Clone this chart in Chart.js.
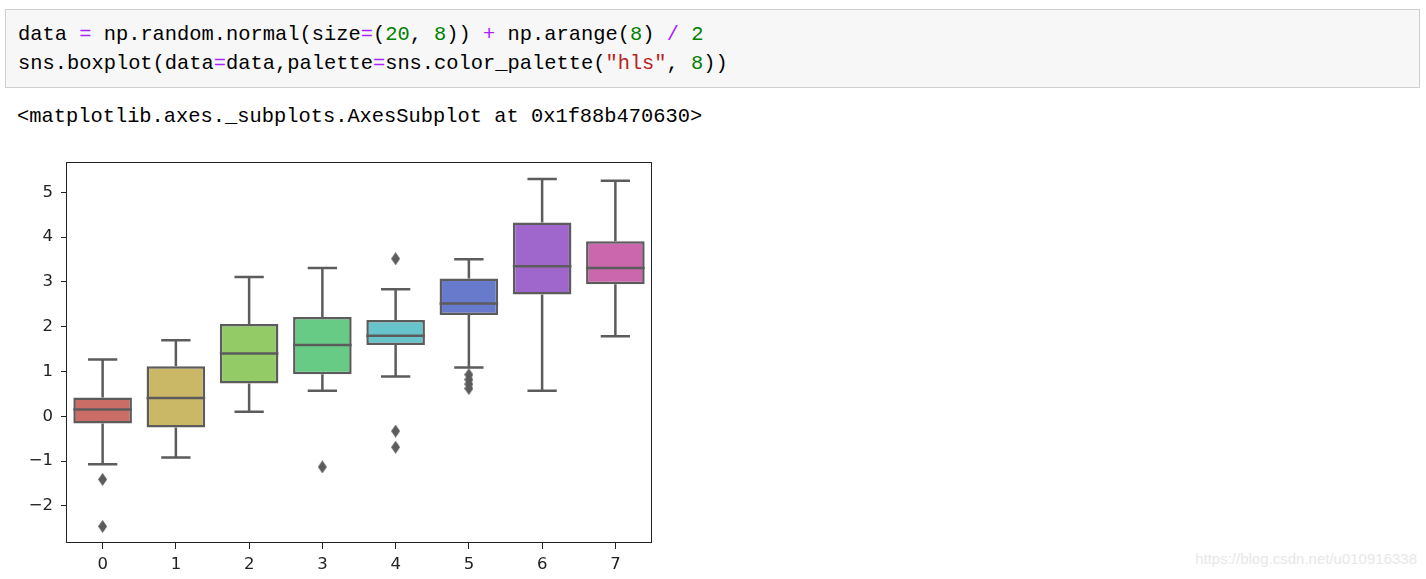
<!DOCTYPE html>
<html>
<head>
  <title>sns.boxplot</title>
  <script src="https://cdn.jsdelivr.net/npm/chart.js"></script>
  <style>
    body { margin: 0; background: #fff; width: 1426px; height: 579px; position: relative; overflow: hidden; }
    #cell {
      position: absolute; left: 5px; top: 9px; width: 1413px; height: 77px;
      background: #f7f7f7; border: 1px solid #cfcfcf;
    }
    pre {
      margin: 0; font-family: "Liberation Mono", monospace; font-size: 20.4px; line-height: 29px; color: #000;
    }
    #cell pre { position: absolute; left: 12px; top: 10px; }
    .o { color: #aa22ff; }
    .n { color: #008000; }
    .s { color: #ba2121; }
    #out { position: absolute; left: 17px; top: 102px; color: #000; }
    #wrap { position: absolute; left: 0; top: 150px; width: 660px; height: 429px; }
    #mark {
      position: absolute; right: 9px; top: 550px; font-family: "Liberation Sans", Arial, sans-serif;
      font-size: 15px; color: #e8e8e8;
    }
  </style>
</head>
<body>
  <div id="cell"><pre>data <span class="o">=</span> np.random.normal(size<span class="o">=</span>(<span class="n">20</span>, <span class="n">8</span>)) <span class="o">+</span> np.arange(<span class="n">8</span>) <span class="o">/</span> <span class="n">2</span>
sns.boxplot(data<span class="o">=</span>data,palette<span class="o">=</span>sns.color_palette(<span class="s">"hls"</span>, <span class="n">8</span>))</pre></div>
  <pre id="out">&lt;matplotlib.axes._subplots.AxesSubplot at 0x1f88b470630&gt;</pre>

  <div id="wrap"><canvas id="chart"></canvas></div>
  <div id="mark">https://blog.csdn.net/u010916338</div>

  <script>
    const categories = ["0", "1", "2", "3", "4", "5", "6", "7"];
    const whiskerLow = [-1.07, -0.92, 0.10, 0.57, 0.89, 1.09, 0.57, 1.79];
    const q1 = [-0.16, -0.25, 0.73, 0.94, 1.59, 2.26, 2.72, 2.95];
    const median = [0.15, 0.41, 1.40, 1.59, 1.80, 2.52, 3.35, 3.31];
    const q3 = [0.42, 1.12, 2.06, 2.22, 2.15, 3.08, 4.33, 3.91];
    const whiskerHigh = [1.27, 1.70, 3.11, 3.31, 2.84, 3.51, 5.30, 5.26];
    const outlierCat = ["0", "0", "3", "4", "4", "4", "5", "5", "5", "5"];
    const outlierVal = [-1.41, -2.46, -1.13, 3.52, -0.33, -0.69, 0.93, 0.82, 0.72, 0.62];
    const yTicks = [-2, -1, 0, 1, 2, 3, 4, 5];
    const colors = ["#cb6d67", "#cbb867", "#93cb67", "#67cb86", "#67c4cb", "#677acb", "#9f67cb", "#cb67ac"];
    const lineGray = "#5c5c5c";

    // thin diamond marker like matplotlib 'd'
    const diamond = document.createElement("canvas");
    diamond.width = 9; diamond.height = 13;
    const dctx = diamond.getContext("2d");
    dctx.fillStyle = lineGray;
    dctx.beginPath();
    dctx.moveTo(4.5, 0); dctx.lineTo(9, 6.5); dctx.lineTo(4.5, 13); dctx.lineTo(0, 6.5);
    dctx.closePath(); dctx.fill();

    const boxParts = {
      id: "boxParts",
      afterDatasetsDraw(chart) {
        const ctx = chart.ctx, x = chart.scales.x, y = chart.scales.y;
        const step = x.getPixelForValue(1) - x.getPixelForValue(0);
        ctx.save();
        ctx.strokeStyle = lineGray;
        ctx.lineWidth = 2.5;
        categories.forEach((c, i) => {
          const cx = x.getPixelForValue(i);
          const cap = step * 0.2;
          const box = step * 0.4;
          ctx.beginPath();
          ctx.moveTo(cx, y.getPixelForValue(q3[i])); ctx.lineTo(cx, y.getPixelForValue(whiskerHigh[i]));
          ctx.moveTo(cx, y.getPixelForValue(q1[i])); ctx.lineTo(cx, y.getPixelForValue(whiskerLow[i]));
          ctx.moveTo(cx - cap, y.getPixelForValue(whiskerHigh[i])); ctx.lineTo(cx + cap, y.getPixelForValue(whiskerHigh[i]));
          ctx.moveTo(cx - cap, y.getPixelForValue(whiskerLow[i])); ctx.lineTo(cx + cap, y.getPixelForValue(whiskerLow[i]));
          ctx.moveTo(cx - box, y.getPixelForValue(median[i])); ctx.lineTo(cx + box, y.getPixelForValue(median[i]));
          ctx.stroke();
        });
        const a = chart.chartArea;
        ctx.strokeStyle = "#222";
        ctx.lineWidth = 1;
        ctx.strokeRect(a.left + 0.5, a.top + 0.5, a.right - a.left - 1, a.bottom - a.top - 1);
        ctx.restore();
      }
    };

    new Chart(document.getElementById("chart"), {
      type: "bar",
      data: {
        labels: categories,
        datasets: [
          {
            type: "bar",
            data: categories.map((c, i) => [q1[i], q3[i]]),
            backgroundColor: colors,
            borderColor: lineGray,
            borderWidth: 2.5,
            borderSkipped: false,
            barPercentage: 0.8,
            categoryPercentage: 1.0
          },
          {
            type: "line",
            showLine: false,
            data: outlierCat.map((c, i) => ({ x: c, y: outlierVal[i] })),
            pointStyle: diamond,
            pointRadius: 5
          }
        ]
      },
      options: {
        responsive: true,
        maintainAspectRatio: false,
        animation: false,
        layout: { padding: { left: 0, right: 8, top: 12, bottom: 0 } },
        plugins: { legend: { display: false }, tooltip: { enabled: false } },
        scales: {
          x: {
            offset: true,
            grid: { display: true, drawOnChartArea: false, offset: false, tickLength: 6, color: "#222" },
            border: { display: false },
            ticks: { color: "#222", padding: 6, font: { family: "DejaVu Sans", size: 16.5 } },
            afterFit: s => { s.height = 36; s.paddingLeft = 0; s.paddingRight = 0; }
          },
          y: {
            min: -2.83,
            max: 5.68,
            afterBuildTicks: s => { s.ticks = yTicks.map(v => ({ value: v })); },
            grid: { display: true, drawOnChartArea: false, tickLength: 5, color: "#222" },
            border: { display: false },
            ticks: {
              color: "#222", padding: 8, font: { family: "DejaVu Sans", size: 16.5 },
              callback: v => (v < 0 ? "\u2212" + Math.abs(v) : String(v))
            },
            afterFit: s => { s.width = 66; s.paddingTop = 0; s.paddingBottom = 0; }
          }
        }
      },
      plugins: [boxParts]
    });
  </script>
</body>
</html>
